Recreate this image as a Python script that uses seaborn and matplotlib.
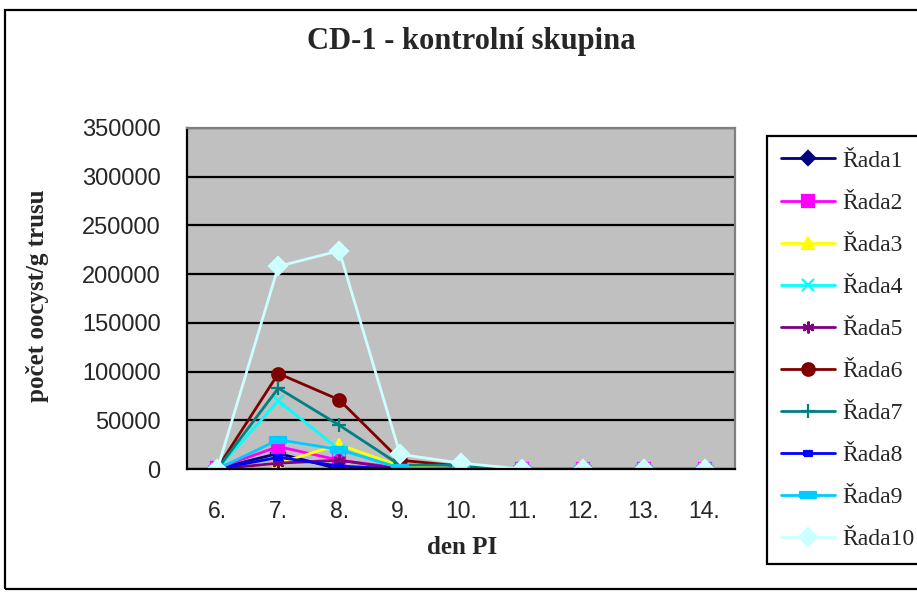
import numpy as np
import pandas as pd
import matplotlib
matplotlib.use("Agg")
import matplotlib.pyplot as plt
import seaborn as sns
from matplotlib.patches import Rectangle

# ---- data ----
days = ["6.", "7.", "8.", "9.", "10.", "11.", "12.", "13.", "14."]
series_names = ["Řada1", "Řada2", "Řada3", "Řada4", "Řada5",
                "Řada6", "Řada7", "Řada8", "Řada9", "Řada10"]
rada1 = [500, 16000, 0, 0, 0, 0, 0, 0, 0]
rada2 = [1000, 23000, 9000, 1000, 0, 0, 0, 0, 0]
rada3 = [0, 6000, 25000, 3000, 0, 0, 0, 0, 0]
rada4 = [0, 70000, 20000, 1000, 0, 0, 0, 0, 0]
rada5 = [0, 6000, 9000, 0, 0, 0, 0, 0, 0]
rada6 = [1000, 98000, 71000, 9000, 3000, 0, 0, 0, 0]
rada7 = [0, 83000, 45000, 4000, 4000, 0, 0, 0, 0]
rada8 = [0, 12000, 3000, 0, 0, 0, 0, 0, 0]
rada9 = [0, 30000, 20000, 1000, 0, 0, 0, 0, 0]
rada10 = [0, 208000, 224000, 15000, 6000, 0, 0, 0, 0]
all_values = [rada1, rada2, rada3, rada4, rada5, rada6, rada7, rada8, rada9, rada10]

colors = ["#000080", "#FF00FF", "#FFFF00", "#00FFFF", "#800080",
          "#800000", "#008080", "#0000FF", "#00CCFF", "#CCFFFF"]
rect_small = [(-1, -0.6), (1, -0.6), (1, 0.6), (-1, 0.6), (-1, -0.6)]
rect_long = [(-1, -0.35), (1, -0.35), (1, 0.35), (-1, 0.35), (-1, -0.35)]
markers = ["D", "s", "^", "x", (6, 2, 0), "o", "+", rect_small, rect_long, "D"]
msizes = [7.5, 8.5, 9, 8, 8.5, 9, 9.5, 6, 11, 9]

sns.set_style("white")
plt.rcParams["font.family"] = ["Liberation Sans", "DejaVu Sans"]

fig = plt.figure(figsize=(9.17, 5.92), dpi=100)
ax = fig.add_axes([187 / 917, 1 - 469 / 592, (735 - 187) / 917, (469 - 128) / 592])
ax.set_facecolor("#C0C0C0")

xpos = np.arange(len(days))
for name, vals, c, m, ms in zip(series_names, all_values, colors, markers, msizes):
    df = pd.DataFrame({"x": xpos, "y": vals})
    sns.lineplot(data=df, x="x", y="y", ax=ax, color=c, marker=m, markersize=ms,
                 markeredgecolor=c, markerfacecolor=c, markeredgewidth=1.6,
                 linewidth=2.0, label=name, legend=False)

ax.set_xlim(-0.5, len(days) - 0.5)
ax.set_ylim(0, 350000)
ax.set_yticks(np.arange(0, 350001, 50000))
ax.set_yticklabels([str(v) for v in range(0, 350001, 50000)], fontsize=17)
ax.set_xticks(xpos)
ax.set_xticklabels(days, fontsize=16.5)
ax.set_xticks(np.arange(-0.5, len(days), 1), minor=True)
ax.tick_params(axis="x", which="major", length=0, pad=22)
ax.tick_params(axis="x", which="minor", length=7, width=1.5, color="black", direction="out")
ax.tick_params(axis="y", which="major", length=8, width=1.5, color="black", direction="out", pad=11)
ax.set_xlabel("")
ax.set_ylabel("")
ax.yaxis.grid(True, color="black", linewidth=1.6)
ax.xaxis.grid(False)
ax.set_axisbelow(True)
for s in ["left", "bottom"]:
    ax.spines[s].set_color("black")
    ax.spines[s].set_linewidth(1.6)
for s in ["top", "right"]:
    ax.spines[s].set_color("#808080")
    ax.spines[s].set_linewidth(1.6)

# titles
fig.text(471 / 917, 1 - 42 / 592, "CD-1 - kontrolní skupina", ha="center", va="center",
         fontsize=22, fontweight="bold", family="Liberation Serif")
fig.text(462 / 917, 1 - 548 / 592, "den PI", ha="center", va="center",
         fontsize=18, fontweight="bold", family="Liberation Serif")
fig.text(38 / 917, 1 - 296 / 592, "počet oocyst/g trusu", ha="center", va="center",
         rotation=90, fontsize=18, fontweight="bold", family="Liberation Serif")

# legend
handles = ax.get_lines()[:len(series_names)]
leg = fig.legend(handles, series_names, loc="upper left",
                 bbox_to_anchor=(767 / 917, 1 - 136 / 592), bbox_transform=fig.transFigure,
                 prop={"family": "Liberation Serif", "size": 17},
                 frameon=True, fancybox=False, edgecolor="black", framealpha=1,
                 borderpad=0.6, labelspacing=0.87, handlelength=2.3, handletextpad=0.3,
                 borderaxespad=0)
leg.get_frame().set_linewidth(1.6)

# outer border
fig.patches.append(Rectangle((5 / 917, 3 / 592), 1.2, 1 - 13 / 592, transform=fig.transFigure,
                             fill=False, edgecolor="black", linewidth=1.6, clip_on=False))

fig.savefig("out.png", dpi=100)
